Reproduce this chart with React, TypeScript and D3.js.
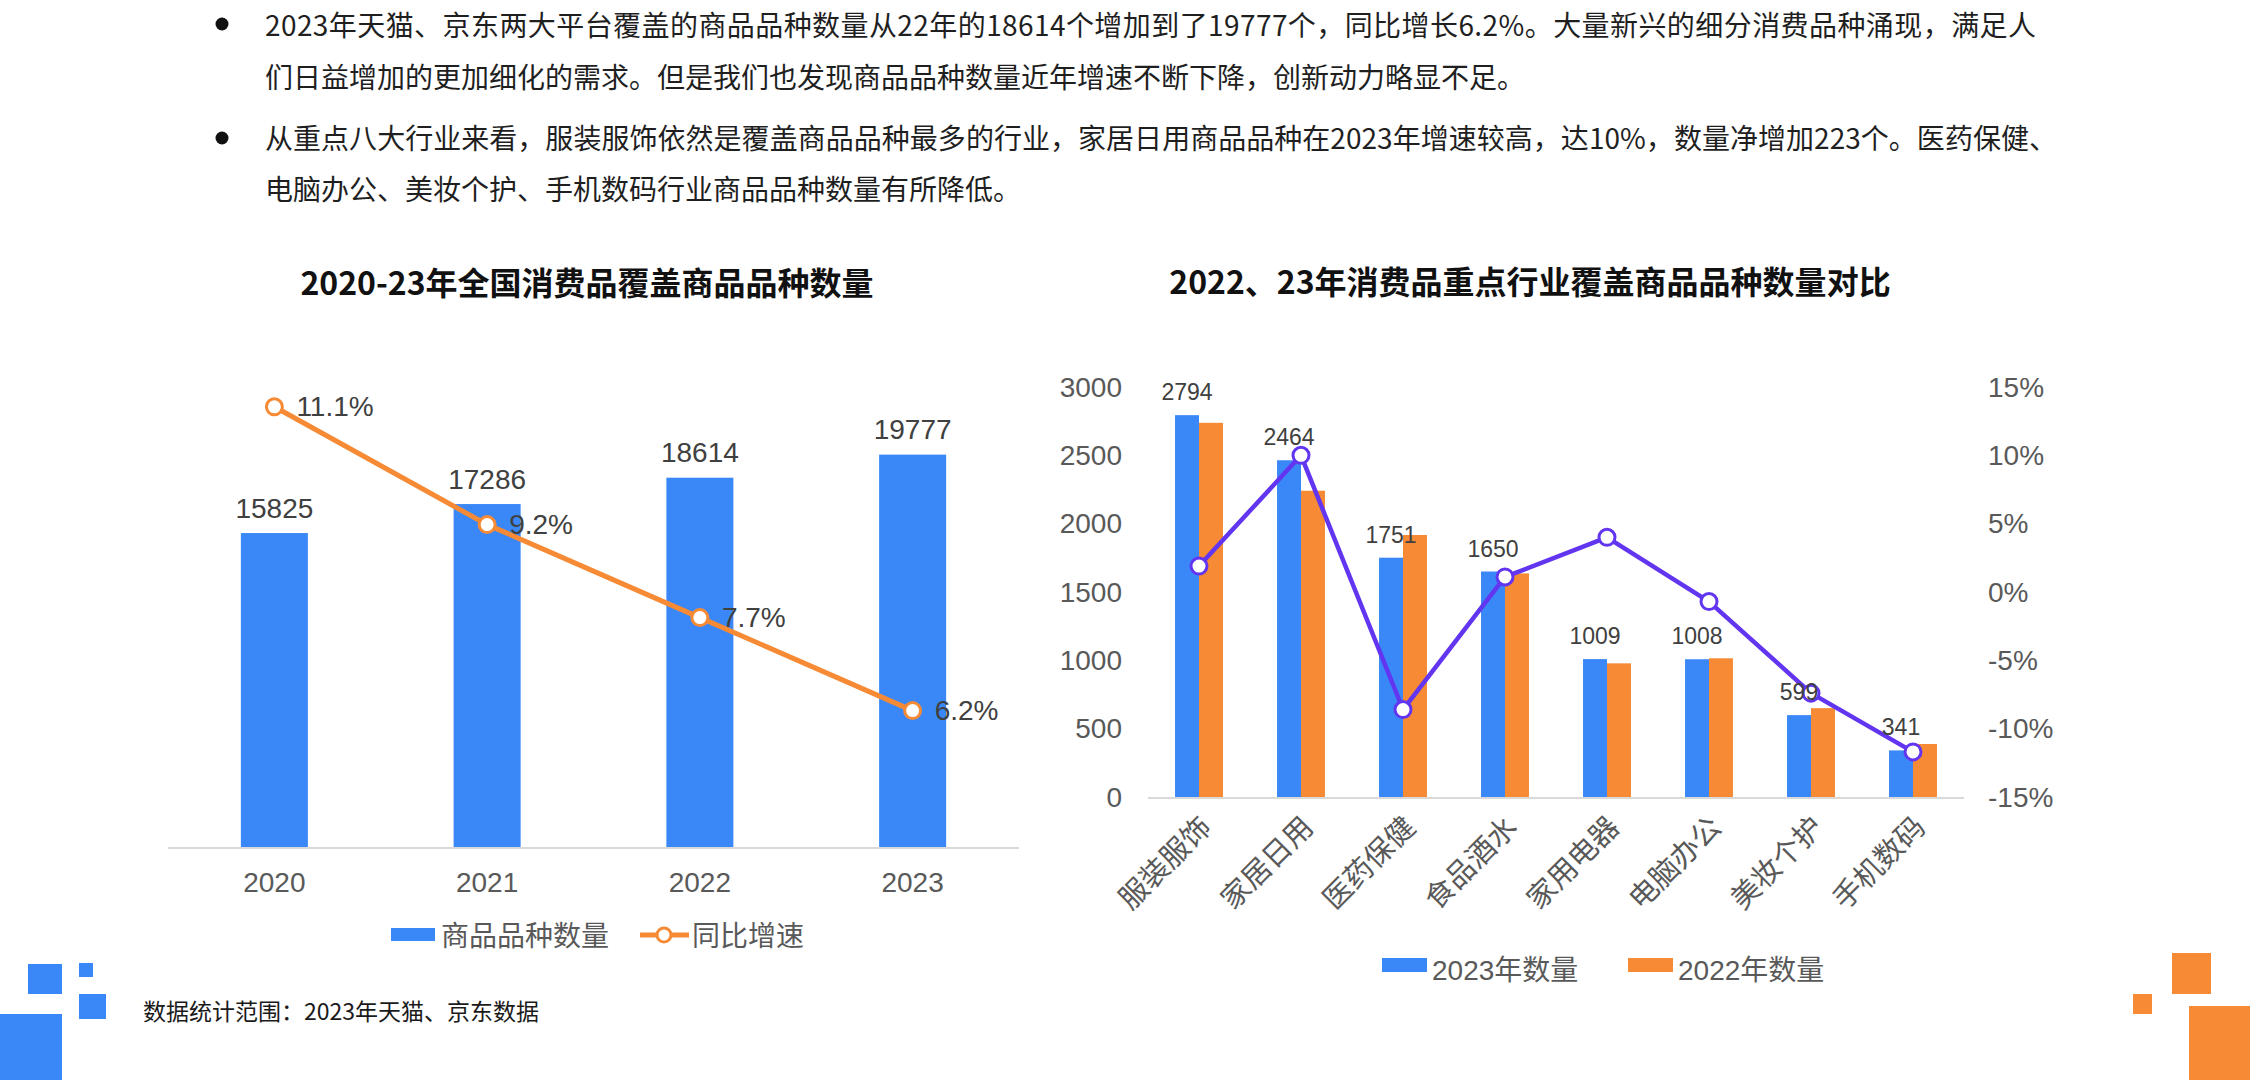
import React from 'react';
import * as d3 from 'd3';

// ---------- data ----------
const paragraphLines = [
  '2023年天猫、京东两大平台覆盖的商品品种数量从22年的18614个增加到了19777个，同比增长6.2%。大量新兴的细分消费品种涌现，满足人',
  '们日益增加的更加细化的需求。但是我们也发现商品品种数量近年增速不断下降，创新动力略显不足。',
  '从重点八大行业来看，服装服饰依然是覆盖商品品种最多的行业，家居日用商品品种在2023年增速较高，达10%，数量净增加223个。医药保健、',
  '电脑办公、美妆个护、手机数码行业商品品种数量有所降低。',
];

const years = ['2020', '2021', '2022', '2023'];
const counts = [15825, 17286, 18614, 19777];
const growth = [11.1, 9.2, 7.7, 6.2];

const industries = ['服装服饰', '家居日用', '医药保健', '食品酒水', '家用电器', '电脑办公', '美妆个护', '手机数码'];
const count2023 = [2794, 2464, 1751, 1650, 1009, 1008, 599, 341];
const count2022 = [2738, 2241, 1917, 1636, 978, 1015, 650, 388];
const rate = [1.9, 10.0, -8.6, 1.1, 4.0, -0.7, -7.4, -11.7];

const leftTicks = [0, 500, 1000, 1500, 2000, 2500, 3000];
const rightTicks = [-15, -10, -5, 0, 5, 10, 15];

// ---------- style ----------
const BLUE = '#3A88F8';
const ORANGE = '#F68A35';
const PURPLE = '#6236F0';
const CN = "'Noto Sans CJK SC', sans-serif";
const NUM = "'Liberation Sans', Arial, 'Noto Sans CJK SC', sans-serif";

export default function App() {
  const W = 2250;
  const H = 1080;

  // left chart scales
  const lx = d3.scaleBand<string>().domain(years).range([168, 1019]).paddingInner(0.685).paddingOuter(0.3425);
  const ly = d3.scaleLinear().domain([0, 25000]).range([847, 351]);
  const lr = d3.scaleLinear().domain([4, 12]).range([847, 351]);
  const lcx = (i: number) => (lx(years[i]) as number) + lx.bandwidth() / 2;
  const lineL = d3.line<number>().x((_, i) => lcx(i)).y((d) => lr(d));

  // right chart scales
  const rx = d3.scaleBand<string>().domain(industries).range([1148, 1964]).paddingInner(0.53).paddingOuter(0.265);
  const rsub = d3.scaleBand<string>().domain(['2023', '2022']).range([0, rx.bandwidth()]);
  const ry = d3.scaleLinear().domain([0, 3000]).range([797, 387]);
  const rr = d3.scaleLinear().domain([-15, 15]).range([797, 387]);
  const rcx = (i: number) => (rx(industries[i]) as number) + rx.bandwidth() / 2;
  const lineR = d3.line<number>().x((_, i) => rcx(i)).y((d) => rr(d));

  const lineY = [24, 76, 137, 188];
  const justify: (number | undefined)[] = [1771, undefined, 1792, undefined];

  return (
    <div style={{ position: 'absolute', left: 0, top: 0, width: W, height: H, background: '#fff' }}>
      <svg width={W} height={H} viewBox={`0 0 ${W} ${H}`} style={{ display: 'block' }}>
        <rect x={0} y={0} width={W} height={H} fill="#fff" />

        {/* paragraph */}
        <circle cx={222} cy={24} r={6.5} fill="#111" />
        <circle cx={222} cy={138} r={6.5} fill="#111" />
        {paragraphLines.map((t, i) => (
          <text
            key={i}
            x={265}
            y={lineY[i]}
            dominantBaseline="central"
            fontFamily={CN}
            fontSize={28}
            fill="#1f1f1f"
            textLength={justify[i]}
            lengthAdjust={justify[i] ? 'spacing' : undefined}
          >
            {t}
          </text>
        ))}

        {/* titles */}
        <text x={587} y={281} textAnchor="middle" dominantBaseline="central" fontFamily={CN} fontWeight={700} fontSize={32} fill="#111">
          2020-23年全国消费品覆盖商品品种数量
        </text>
        <text x={1530} y={280} textAnchor="middle" dominantBaseline="central" fontFamily={CN} fontWeight={700} fontSize={32} fill="#111">
          2022、23年消费品重点行业覆盖商品品种数量对比
        </text>

        {/* ---------- left chart ---------- */}
        {counts.map((v, i) => (
          <rect key={i} x={lx(years[i])} y={ly(v)} width={lx.bandwidth()} height={ly(0) - ly(v)} fill={BLUE} />
        ))}
        <line x1={168} x2={1019} y1={848} y2={848} stroke="#d9d9d9" strokeWidth={2} />
        {counts.map((v, i) => (
          <text key={i} x={lcx(i)} y={ly(v) - 25} textAnchor="middle" dominantBaseline="central" fontFamily={NUM} fontSize={28} fill="#404040">
            {v}
          </text>
        ))}
        {years.map((y, i) => (
          <text key={y} x={lcx(i)} y={882} textAnchor="middle" dominantBaseline="central" fontFamily={NUM} fontSize={28} fill="#595959">
            {y}
          </text>
        ))}
        <path d={lineL(growth) || ''} fill="none" stroke={ORANGE} strokeWidth={5} strokeLinejoin="round" />
        {growth.map((g, i) => (
          <circle key={i} cx={lcx(i)} cy={lr(g)} r={8} fill="#fff" stroke={ORANGE} strokeWidth={3} />
        ))}
        {growth.map((g, i) => (
          <text key={i} x={lcx(i) + 22} y={lr(g)} dominantBaseline="central" fontFamily={NUM} fontSize={28} fill="#404040">
            {g.toFixed(1)}%
          </text>
        ))}
        {/* left legend */}
        <rect x={391} y={928} width={44} height={13} fill={BLUE} />
        <text x={441} y={936} dominantBaseline="central" fontFamily={NUM} fontSize={28} fill="#595959">商品品种数量</text>
        <line x1={640} x2={689} y1={935} y2={935} stroke={ORANGE} strokeWidth={5} />
        <circle cx={664} cy={935} r={7} fill="#fff" stroke={ORANGE} strokeWidth={3} />
        <text x={692} y={936} dominantBaseline="central" fontFamily={NUM} fontSize={28} fill="#595959">同比增速</text>

        {/* ---------- right chart ---------- */}
        {leftTicks.map((t) => (
          <text key={t} x={1122} y={ry(t)} textAnchor="end" dominantBaseline="central" fontFamily={NUM} fontSize={28} fill="#595959">
            {t}
          </text>
        ))}
        {rightTicks.map((t) => (
          <text key={t} x={1988} y={rr(t)} dominantBaseline="central" fontFamily={NUM} fontSize={28} fill="#595959">
            {t}%
          </text>
        ))}
        {industries.map((c, i) => (
          <g key={c}>
            <rect x={(rx(c) as number) + (rsub('2023') as number)} y={ry(count2023[i])} width={rsub.bandwidth()} height={ry(0) - ry(count2023[i])} fill={BLUE} />
            <rect x={(rx(c) as number) + (rsub('2022') as number)} y={ry(count2022[i])} width={rsub.bandwidth()} height={ry(0) - ry(count2022[i])} fill={ORANGE} />
          </g>
        ))}
        <line x1={1148} x2={1964} y1={798} y2={798} stroke="#d9d9d9" strokeWidth={2} />
        <path d={lineR(rate) || ''} fill="none" stroke={PURPLE} strokeWidth={4.5} strokeLinejoin="round" />
        {rate.map((r, i) => (
          <circle key={i} cx={rcx(i)} cy={rr(r)} r={8} fill="#fff" stroke={PURPLE} strokeWidth={3} />
        ))}
        {count2023.map((v, i) => (
          <text
            key={i}
            x={(rx(industries[i]) as number) + (rsub('2023') as number) + rsub.bandwidth() / 2}
            y={ry(v) - 23}
            textAnchor="middle"
            dominantBaseline="central"
            fontFamily={NUM}
            fontSize={23}
            fill="#404040"
          >
            {v}
          </text>
        ))}
        {industries.map((c, i) => (
          <text
            key={c}
            transform={`translate(${rcx(i) + 7},${822}) rotate(-45)`}
            textAnchor="end"
            dominantBaseline="central"
            fontFamily={NUM}
            fontSize={29}
            fill="#595959"
          >
            {c}
          </text>
        ))}
        {/* right legend */}
        <rect x={1382} y={958} width={45} height={14} fill={BLUE} />
        <text x={1432} y={970} dominantBaseline="central" fontFamily={NUM} fontSize={28} fill="#595959">2023年数量</text>
        <rect x={1628} y={958} width={45} height={14} fill={ORANGE} />
        <text x={1678} y={970} dominantBaseline="central" fontFamily={NUM} fontSize={28} fill="#595959">2022年数量</text>

        {/* footer */}
        <text x={143} y={1010} dominantBaseline="central" fontFamily={CN} fontSize={23} fill="#1a1a1a">
          数据统计范围：2023年天猫、京东数据
        </text>

        {/* decorative squares */}
        <rect x={28} y={964} width={34} height={30} fill={BLUE} />
        <rect x={79} y={963} width={14} height={14} fill={BLUE} />
        <rect x={79} y={994} width={27} height={25} fill={BLUE} />
        <rect x={0} y={1014} width={62} height={66} fill={BLUE} />
        <rect x={2172} y={953} width={39} height={41} fill={ORANGE} />
        <rect x={2133} y={994} width={19} height={20} fill={ORANGE} />
        <rect x={2189} y={1006} width={61} height={74} fill={ORANGE} />
      </svg>
    </div>
  );
}
